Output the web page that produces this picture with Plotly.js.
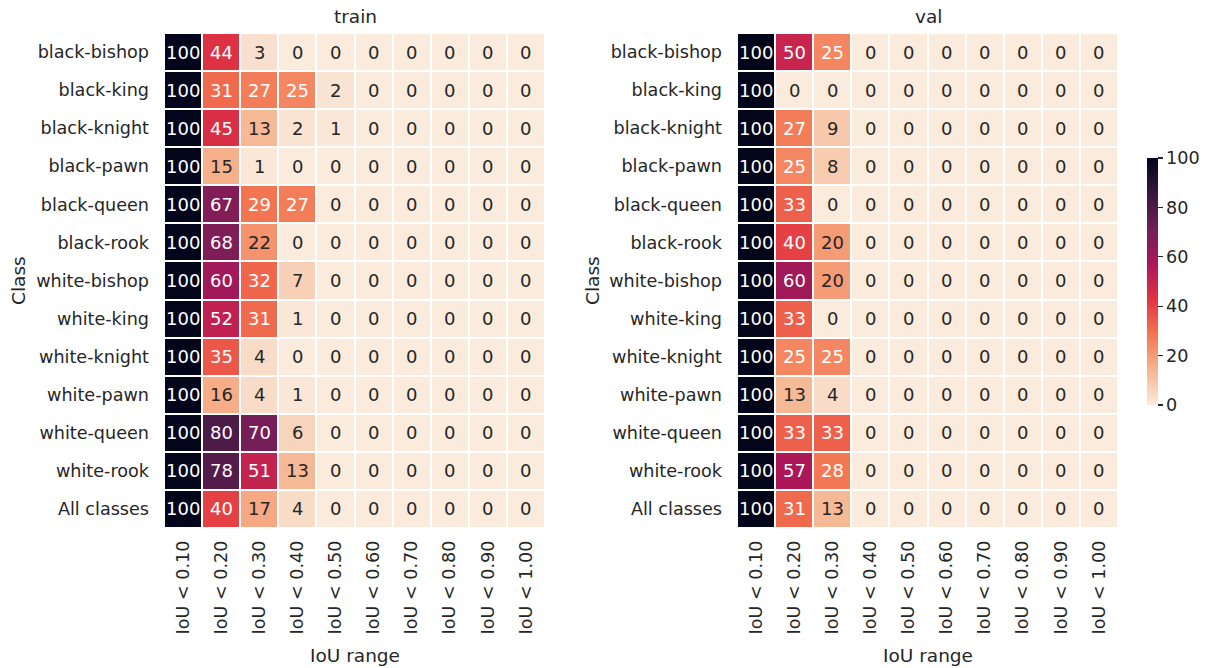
<!DOCTYPE html>
<html>
<head>
<meta charset="utf-8">
<script src="https://cdn.plot.ly/plotly-3.0.1.min.js"></script>
<style>html,body{margin:0;padding:0;background:#fff;}#chart{width:1216px;height:668px;}</style>
</head>
<body>
<div id="chart"></div>
<script>
const classes = ["black-bishop","black-king","black-knight","black-pawn","black-queen","black-rook","white-bishop","white-king","white-knight","white-pawn","white-queen","white-rook","All classes"];
const iouRanges = ["IoU < 0.10","IoU < 0.20","IoU < 0.30","IoU < 0.40","IoU < 0.50","IoU < 0.60","IoU < 0.70","IoU < 0.80","IoU < 0.90","IoU < 1.00"];
const trainValues = [
  [100,44,3,0,0,0,0,0,0,0],
  [100,31,27,25,2,0,0,0,0,0],
  [100,45,13,2,1,0,0,0,0,0],
  [100,15,1,0,0,0,0,0,0,0],
  [100,67,29,27,0,0,0,0,0,0],
  [100,68,22,0,0,0,0,0,0,0],
  [100,60,32,7,0,0,0,0,0,0],
  [100,52,31,1,0,0,0,0,0,0],
  [100,35,4,0,0,0,0,0,0,0],
  [100,16,4,1,0,0,0,0,0,0],
  [100,80,70,6,0,0,0,0,0,0],
  [100,78,51,13,0,0,0,0,0,0],
  [100,40,17,4,0,0,0,0,0,0]
];
const valValues = [
  [100,50,25,0,0,0,0,0,0,0],
  [100,0,0,0,0,0,0,0,0,0],
  [100,27,9,0,0,0,0,0,0,0],
  [100,25,8,0,0,0,0,0,0,0],
  [100,33,0,0,0,0,0,0,0,0],
  [100,40,20,0,0,0,0,0,0,0],
  [100,60,20,0,0,0,0,0,0,0],
  [100,33,0,0,0,0,0,0,0,0],
  [100,25,25,0,0,0,0,0,0,0],
  [100,13,4,0,0,0,0,0,0,0],
  [100,33,33,0,0,0,0,0,0,0],
  [100,57,28,0,0,0,0,0,0,0],
  [100,31,13,0,0,0,0,0,0,0]
];
const panelTitles = ["train","val"];

const rocketR = [
  [0.0,"#FAEBDD"],[0.143,"#F6B48F"],[0.286,"#F37651"],[0.429,"#E13342"],
  [0.571,"#AD1759"],[0.714,"#701F57"],[0.857,"#35193E"],[1.0,"#03051A"]
];
const FONT = "DejaVu Sans, sans-serif";
const DARK = "#262626";
const TS = 17.6;

function hm(z, xa, ya, showscale){
  return {
    type:"heatmap", z:z, x:iouRanges, y:classes, xaxis:xa, yaxis:ya,
    colorscale:rocketR, zmin:0, zmax:100, xgap:2, ygap:2,
    showscale:showscale, hoverinfo:"skip",
    colorbar:{x:1137/1216, xanchor:"left", xpad:10, ypad:10, y:1-281.5/668, yanchor:"middle", len:267/668, lenmode:"fraction",
      thickness:11, outlinewidth:0, ticks:"outside", ticklen:5, tickwidth:1.2, tickcolor:DARK,
      tickvals:[0,20,40,60,80,100], tickfont:{family:FONT,size:TS,color:DARK}}
  };
}
const data = [hm(trainValues,"x","y",false), hm(valValues,"x2","y2",true)];

const annotations = [];
[[trainValues,"x","y"],[valValues,"x2","y2"]].forEach(([vals,xr,yr])=>{
  vals.forEach((row,i)=>row.forEach((v,j)=>{
    annotations.push({x:iouRanges[j], y:classes[i], xref:xr, yref:yr, text:String(v), showarrow:false,
      font:{family:FONT,size:18,color: v>=23 ? "#ffffff" : DARK}});
  }));
});
const centers = [355, 928];
const classX = [18, 592];
panelTitles.forEach((t,k)=>{
  annotations.push({x:centers[k]/1216, y:1-17/668, xref:"paper", yref:"paper", text:t, showarrow:false,
    font:{family:FONT,size:18.5,color:DARK}, xanchor:"center", yanchor:"middle"});
  annotations.push({x:centers[k]/1216, y:1-655/668, xref:"paper", yref:"paper", text:"IoU range", showarrow:false,
    font:{family:FONT,size:18.5,color:DARK}, xanchor:"center", yanchor:"middle"});
  annotations.push({x:classX[k]/1216, y:1-281/668, xref:"paper", yref:"paper", text:"Class", showarrow:false,
    textangle:-90, font:{family:FONT,size:18.5,color:DARK}, xanchor:"center", yanchor:"middle"});
});

function xax(dom, anchor){
  return {domain:dom, anchor:anchor, type:"category", tickangle:-90, ticks:"", showgrid:false, zeroline:false,
    showline:false, ticklabelstandoff:8, tickfont:{family:FONT,size:TS,color:DARK}, fixedrange:true};
}
function yax(anchor){
  return {domain:[1-528/668, 1-33/668], anchor:anchor, type:"category", autorange:"reversed", ticks:"",
    showgrid:false, zeroline:false, showline:false, ticklabelstandoff:14,
    tickfont:{family:FONT,size:TS,color:DARK}, fixedrange:true};
}
const layout = {
  width:1216, height:668, margin:{l:0,r:0,t:0,b:0}, paper_bgcolor:"#fff", plot_bgcolor:"#fff",
  font:{family:FONT,color:DARK}, showlegend:false,
  xaxis:xax([164/1216, 545/1216],"y"), yaxis:yax("x"),
  xaxis2:xax([737/1216, 1118/1216],"y2"), yaxis2:yax("x2"),
  annotations:annotations
};
Plotly.newPlot("chart", data, layout, {displayModeBar:false, staticPlot:true});
</script>
</body>
</html>
